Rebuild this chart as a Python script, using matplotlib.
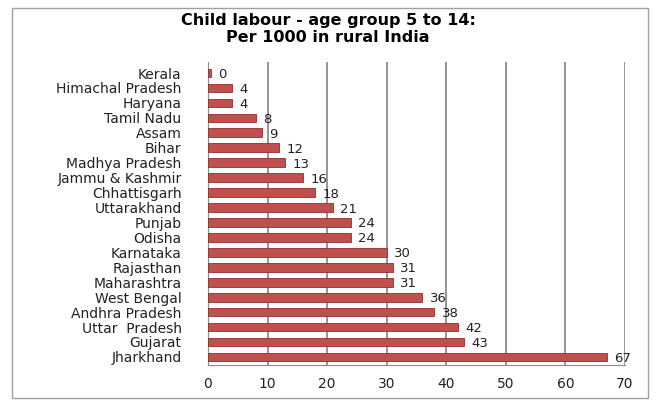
import matplotlib.pyplot as plt
import matplotlib.patches as mpatches

# Data
states = ['Kerala', 'Himachal Pradesh', 'Haryana', 'Tamil Nadu', 'Assam', 'Bihar',
          'Madhya Pradesh', 'Jammu & Kashmir', 'Chhattisgarh', 'Uttarakhand', 'Punjab',
          'Odisha', 'Karnataka', 'Rajasthan', 'Maharashtra', 'West Bengal',
          'Andhra Pradesh', 'Uttar  Pradesh', 'Gujarat', 'Jharkhand']
per_1000 = [0, 4, 4, 8, 9, 12, 13, 16, 18, 21, 24, 24, 30, 31, 31, 36, 38, 42, 43, 67]
x_ticks = [0, 10, 20, 30, 40, 50, 60, 70]

bar_color = '#C0504D'
edge_color = '#8C2F2C'

fig = plt.figure(figsize=(6.56, 4.01), dpi=100)

# outer chart border
fig.patches.append(mpatches.Rectangle((12 / 656, 1 - 398 / 401), 636 / 656, 390 / 401,
                                      transform=fig.transFigure, fill=False,
                                      edgecolor='#A0A0A0', linewidth=1.0))

ax = fig.add_axes([208 / 656, 1 - 365 / 401, (625 - 208) / 656, (365 - 62) / 401])

ypos = list(range(len(states)))
# values of 0 still show a tiny stub, like in the reference
shown = [v if v > 0 else 0.5 for v in per_1000]
ax.barh(ypos, shown, height=0.58, color=bar_color, edgecolor=edge_color, linewidth=0.6, zorder=3)

# value labels
for y, v, s in zip(ypos, per_1000, shown):
    ax.text(s + 1.2, y + 0.1, str(v), va='center', ha='left', fontsize=9.5, color='#222222')

ax.set_xlim(0, 70)
ax.set_ylim(len(states) - 0.46, -0.74)
ax.set_xticks(x_ticks)
ax.set_xticklabels([str(t) for t in x_ticks])
ax.set_yticks(ypos)
ax.set_yticklabels(states)
ax.tick_params(axis='both', labelsize=10, colors='#222222', length=0)
ax.tick_params(axis='y', pad=19)
ax.tick_params(axis='x', pad=9)

ax.grid(axis='x', color='#8C8C8C', linewidth=1.3, zorder=0)
for side in ['top', 'right']:
    ax.spines[side].set_visible(False)
ax.spines['left'].set_color('#8C8C8C')
ax.spines['bottom'].set_color('#8C8C8C')

fig.text(0.5, 1 - 29 / 401, 'Child labour - age group 5 to 14:\nPer 1000 in rural India',
         ha='center', va='center', fontsize=11.5, fontweight='bold', linespacing=1.2)

fig.savefig('out.png', dpi=100)
